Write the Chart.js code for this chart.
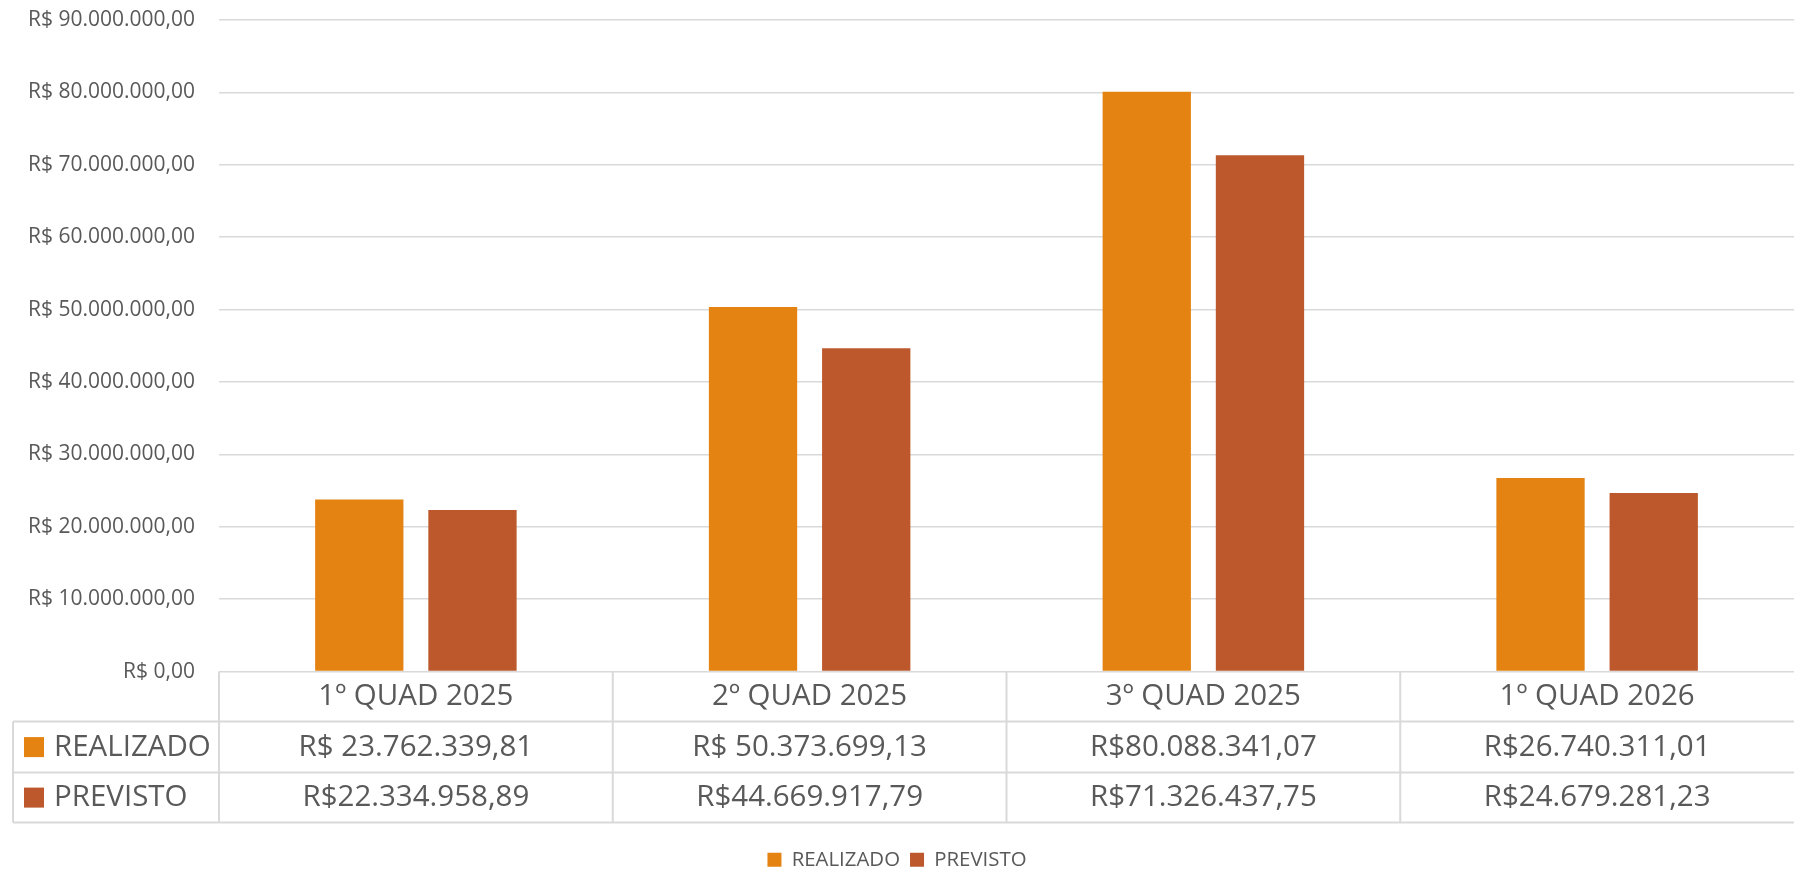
<!DOCTYPE html>
<html lang="pt-BR">
<head>
<meta charset="utf-8">
<title>Realizado x Previsto por quadrimestre</title>
<script src="https://cdn.jsdelivr.net/npm/chart.js@4.4.1/dist/chart.umd.min.js"></script>
<style>
  html, body { margin: 0; padding: 0; background: #fff; }
  #wrap { position: relative; width: 1794px; height: 870px; }
</style>
</head>
<body>
<div id="wrap"><canvas id="grafico"></canvas></div>
<script>
(function () {
  'use strict';

  const CATEGORIAS = ['1º QUAD 2025', '2º QUAD 2025', '3º QUAD 2025', '1º QUAD 2026'];
  const REALIZADO = [23762339.81, 50373699.13, 80088341.07, 26740311.01];
  const PREVISTO  = [22334958.89, 44669917.79, 71326437.75, 24679281.23];

  /* Textos da tabela, como aparecem no original (com e sem espaço). */
  const REALIZADO_TXT = ['R$ 23.762.339,81', 'R$ 50.373.699,13', 'R$80.088.341,07', 'R$26.740.311,01'];
  const PREVISTO_TXT  = ['R$22.334.958,89', 'R$44.669.917,79', 'R$71.326.437,75', 'R$24.679.281,23'];

  const Y_TICKS = [
    'R$ 0,00', 'R$ 10.000.000,00', 'R$ 20.000.000,00', 'R$ 30.000.000,00', 'R$ 40.000.000,00',
    'R$ 50.000.000,00', 'R$ 60.000.000,00', 'R$ 70.000.000,00', 'R$ 80.000.000,00', 'R$ 90.000.000,00'
  ];

  const COR_REAL  = '#E48312';
  const COR_PREV  = '#BD582C';
  const COR_TEXTO = '#595959';
  const COR_LINHA = '#D9D9D9';
  const FONTE     = '"Open Sans", sans-serif';

  Chart.defaults.font.family = FONTE;
  Chart.defaults.color = COR_TEXTO;

  /* Tabela de dados embaixo do eixo X, alinhada às categorias. */
  const tabelaDados = {
    id: 'tabelaDados',
    afterDraw(chart) {
      const ctx  = chart.ctx;
      const xs   = chart.scales.x;
      const n    = CATEGORIAS.length;
      const cw   = (xs.right - xs.left) / n;
      const topo = chart.chartArea.bottom;
      const y1 = topo + 50, y2 = topo + 101, y3 = topo + 151;
      const esq = 13;

      ctx.save();
      ctx.strokeStyle = COR_LINHA;
      ctx.lineWidth = 2;
      ctx.beginPath();
      [y1, y2, y3].forEach(function (y) { ctx.moveTo(esq, y); ctx.lineTo(chart.width, y); });
      for (let i = 0; i < n; i++) {
        const xv = xs.left + i * cw;
        ctx.moveTo(xv, topo); ctx.lineTo(xv, y3);
      }
      ctx.moveTo(esq, y1); ctx.lineTo(esq, y3);
      ctx.stroke();

      ctx.font = '29.5px ' + FONTE;
      ctx.fillStyle = COR_TEXTO;
      ctx.textBaseline = 'middle';
      ctx.textAlign = 'center';
      for (let i = 0; i < n; i++) {
        const cx = xs.getPixelForValue(i);
        ctx.fillText(CATEGORIAS[i], cx, (topo + y1) / 2);
        ctx.fillText(REALIZADO_TXT[i], cx, (y1 + y2) / 2);
        ctx.fillText(PREVISTO_TXT[i], cx, (y2 + y3) / 2);
      }

      const linhas = [[y1, y2], [y2, y3]];
      chart.data.datasets.forEach(function (ds, k) {
        const meio = (linhas[k][0] + linhas[k][1]) / 2;
        ctx.fillStyle = ds.backgroundColor;
        ctx.fillRect(24, meio - 10, 20, 20);
        ctx.fillStyle = COR_TEXTO;
        ctx.textAlign = 'left';
        ctx.fillText(ds.label, 54, meio);
      });
      ctx.restore();
    }
  };

  new Chart(document.getElementById('grafico'), {
    type: 'bar',
    data: {
      labels: CATEGORIAS,
      datasets: [
        {
          label: 'REALIZADO',
          data: REALIZADO,
          backgroundColor: COR_REAL,
          categoryPercentage: 0.575,
          barPercentage: 0.78
        },
        {
          label: 'PREVISTO',
          data: PREVISTO,
          backgroundColor: COR_PREV,
          categoryPercentage: 0.575,
          barPercentage: 0.78
        }
      ]
    },
    options: {
      responsive: true,
      maintainAspectRatio: false,
      animation: false,
      layout: { padding: { top: 20, left: 0, right: 0, bottom: -10 } },
      plugins: {
        legend: {
          position: 'bottom',
          labels: {
            color: COR_TEXTO,
            font: { size: 20.4 },
            boxWidth: 14,
            boxHeight: 14,
            padding: 10
          }
        },
        tooltip: { enabled: false }
      },
      scales: {
        x: {
          grid: { display: false },
          border: { display: false },
          ticks: { display: false },
          afterFit: function (s) { s.height = 168; }
        },
        y: {
          min: 0,
          max: 90000000,
          grid: { color: COR_LINHA, lineWidth: 1.5, drawTicks: false },
          border: { display: false },
          ticks: {
            stepSize: 10000000,
            padding: 24,
            color: COR_TEXTO,
            font: { size: 21 },
            callback: function (v) { return Y_TICKS[Math.round(v / 10000000)]; }
          },
          afterFit: function (s) {
            s.width = 219;
            s.paddingTop = 0;
            s.paddingBottom = 0;
          }
        }
      }
    },
    plugins: [tabelaDados]
  });
})();
</script>
</body>
</html>
